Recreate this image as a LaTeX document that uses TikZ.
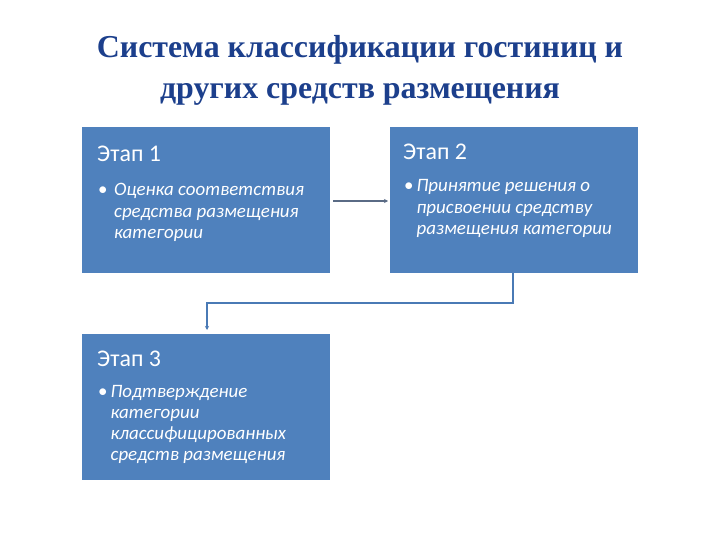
\documentclass[tikz,border=0pt]{standalone}
\usepackage{fontspec}
\setmainfont{Liberation Serif}
\newfontfamily\boxfont{Carlito}
\usetikzlibrary{arrows.meta}
\definecolor{boxblue}{HTML}{4F81BD}
\definecolor{titleblue}{HTML}{1C3F8C}
\definecolor{linkgray}{HTML}{5A6B85}
\definecolor{linkblue}{HTML}{4A7AB5}
\tikzset{
  x=1bp, y=-1bp,
  stage/.style={draw=none, fill=boxblue, minimum width=248bp, minimum height=146bp, anchor=north west, inner sep=0pt},
  head/.style={anchor=base west, text=white, font=\boxfont\fontsize{24}{26}\selectfont, inner sep=0pt},
  bullet/.style={anchor=base west, text=white, font=\boxfont\itshape\fontsize{19}{21.3}\selectfont, inner sep=0pt, align=left},
  link/.style={line width=1.2bp, -{Stealth[length=4bp,width=4bp]}},
}
\begin{document}
\begin{tikzpicture}
\useasboundingbox (0,0) rectangle (720,540);
\fill[white] (0,0) rectangle (720,540);
\node[font=\bfseries\fontsize{32}{41}\selectfont, text=titleblue, align=center] (title) at (360,70) {Система классификации гостиниц и\\других средств размещения};
\node[stage] (s1) at (82,127) {};
\node[stage] (s2) at (390,127) {};
\node[stage] (s3) at (82,334) {};
\node[head] (h1) at (97,162) {Этап 1};
\node[head] (h2) at (403,160) {Этап 2};
\node[head] (h3) at (97,366) {Этап 3};
\node[bullet] (b1) at (98,196) {\textup{•}\hspace{6.5bp}\parbox[t]{210bp}{Оценка соответствия\\средства размещения\\категории}};
\node[bullet] (b2) at (404,192) {\textup{•}\hspace{3bp}\parbox[t]{225bp}{Принятие решения о\\присвоении средству\\размещения категории}};
\node[bullet] (b3) at (98,397) {\textup{•}\hspace{3bp}\parbox[t]{210bp}{Подтверждение\\категории\\классифицированных\\средств размещения}};
\coordinate (a1) at (333,201);
\coordinate (a2) at (388,201);
\draw[link, draw=linkgray] (a1) -- (a2);
\coordinate (e1) at (513,273);
\coordinate (e2) at (207,330);
\draw[link, draw=linkblue] (e1) -- (513,303) -- (207,303) -- (e2);
\end{tikzpicture}
\end{document}
